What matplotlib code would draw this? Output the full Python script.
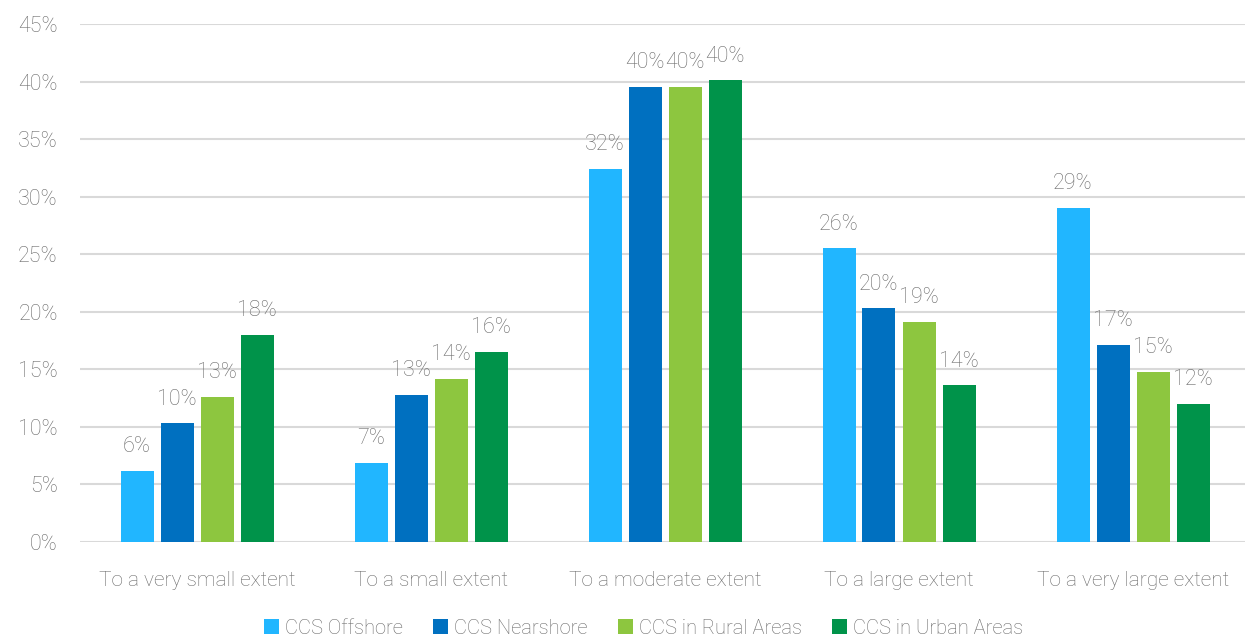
import matplotlib
matplotlib.use("Agg")
import matplotlib.pyplot as plt
import numpy as np
from matplotlib.patches import Patch

categories = ["To a very small extent", "To a small extent", "To a moderate extent",
              "To a large extent", "To a very large extent"]
series_names = ["CCS Offshore", "CCS Nearshore", "CCS in Rural Areas", "CCS in Urban Areas"]
offshore = [6.2, 6.9, 32.4, 25.5, 29.0]
nearshore = [10.3, 12.8, 39.5, 20.3, 17.1]
rural = [12.6, 14.2, 39.5, 19.1, 14.8]
urban = [18.0, 16.5, 40.1, 13.6, 12.0]
colors = ["#21b6ff", "#0070c0", "#8dc63f", "#00934a"]
yticks = [0, 5, 10, 15, 20, 25, 30, 35, 40, 45]

plt.rcParams['font.family'] = ['Roboto', 'DejaVu Sans']
text_color = "#6a6a6a"
fs = 15

fig = plt.figure(figsize=(12.45, 6.39), dpi=100)
ax = fig.add_axes([80/1245, (639-542)/639, (1250-80)/1245, (542-24)/639])

x = np.arange(len(categories))
pitch = 40/234
width = 33/234
all_series = [offshore, nearshore, rural, urban]
for i, (vals, c) in enumerate(zip(all_series, colors)):
    pos = x + (i - 1.5) * pitch
    ax.bar(pos, vals, width=width, color=c, zorder=3, linewidth=0)
    for p, v in zip(pos, vals):
        ax.text(p, v + 1.2, f"{round(v):.0f}%", ha="center", va="bottom",
                fontsize=15.5, color=text_color, fontweight="light", zorder=4)

ax.set_xlim(-0.5, len(categories) - 0.5)
ax.set_ylim(0, 45)
ax.set_yticks(yticks)
ax.set_yticklabels([f"{t}%" for t in yticks])
ax.set_xticks(x)
ax.set_xticklabels(categories)
ax.yaxis.grid(True, color="#d9d9d9", linewidth=1.5, zorder=0)
ax.set_axisbelow(True)
for s in ax.spines.values():
    s.set_visible(False)
ax.tick_params(axis="both", length=0, labelsize=fs, colors=text_color)
ax.tick_params(axis="y", labelsize=15.5, pad=16)
ax.tick_params(axis="x", pad=21)
for lbl in ax.get_xticklabels() + ax.get_yticklabels():
    lbl.set_fontweight("light")

handles = [Patch(facecolor=c, edgecolor="none") for c in colors]
leg = fig.legend(handles, series_names, loc="center", bbox_to_anchor=(0.517, (639-628)/639),
                 ncol=4, frameon=False, fontsize=14.5, handlelength=0.75, handleheight=0.75,
                 handletextpad=0.3, columnspacing=1.5)
for t in leg.get_texts():
    t.set_color(text_color)
    t.set_fontweight("light")

fig.savefig("out.png", dpi=100)
